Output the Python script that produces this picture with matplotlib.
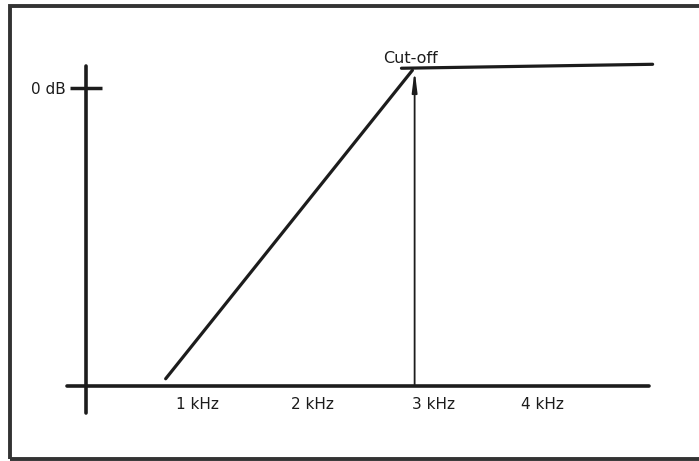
import matplotlib
matplotlib.use("Agg")
import matplotlib.pyplot as plt
from matplotlib.patches import Rectangle

# response sketch, x in kHz, y in dB
slope_khz = [0.73, 2.98]
slope_db = [-29.3, 1.8]
pass_khz = [2.88, 5.17]
pass_db = [2.0, 2.4]

cutoff_khz = 3.0
floor_db = -30

# tick labels (positions)
freq_pos = [1.02, 2.07, 3.17, 4.17]
freq_labels = ["1 kHz", "2 kHz", "3 kHz", "4 kHz"]
level_pos = [0]
level_labels = ["0 dB"]

ink = "#1c1c1c"

fig = plt.figure(figsize=(6.99, 4.61), dpi=100)
ax = fig.add_axes([0, 0, 1, 1])
ax.set_xlim(-0.7805, 5.593)
ax.set_ylim(-37.59, 8.88)

# frame round the picture, right edge runs off the image
fig.patches.append(Rectangle((10 / 699, 2.5 / 461), 1.2, 452.5 / 461,
                             transform=fig.transFigure, fill=False,
                             lw=2.8, edgecolor="#333333"))

# axes drawn as spines crossing at (0, floor)
for side in ["top", "right"]:
    ax.spines[side].set_visible(False)
ax.spines["left"].set_position(("data", 0))
ax.spines["left"].set_bounds(-32.75, 2.2)
ax.spines["bottom"].set_position(("data", floor_db))
ax.spines["bottom"].set_bounds(-0.17, 5.14)
for side in ["left", "bottom"]:
    ax.spines[side].set_linewidth(2.6)
    ax.spines[side].set_color(ink)
    ax.spines[side].set_capstyle("round")

ax.set_xticks(freq_pos, freq_labels)
ax.set_yticks(level_pos, level_labels)
ax.tick_params(axis="x", length=0, pad=8, labelsize=11, labelcolor=ink)
ax.tick_params(axis="y", direction="inout", length=23, width=2.5,
               color=ink, pad=3, labelsize=11, labelcolor=ink)

# the response
ax.plot(slope_khz, slope_db, color=ink, lw=2.3, solid_capstyle="round")
ax.plot(pass_khz, pass_db, color=ink, lw=2.3, solid_capstyle="round")

# cut-off marker
ax.annotate("", xy=(cutoff_khz, slope_db[1]), xytext=(cutoff_khz, floor_db),
            arrowprops=dict(arrowstyle="-|>,head_length=1.2,head_width=0.15",
                            lw=1.3, color=ink, shrinkA=0, shrinkB=0))
ax.annotate("Cut-off", xy=(cutoff_khz, slope_db[1]), xytext=(-3, 5),
            textcoords="offset points", ha="center", va="baseline",
            fontsize=11.5, color=ink)

fig.savefig("out.png", dpi=100)
